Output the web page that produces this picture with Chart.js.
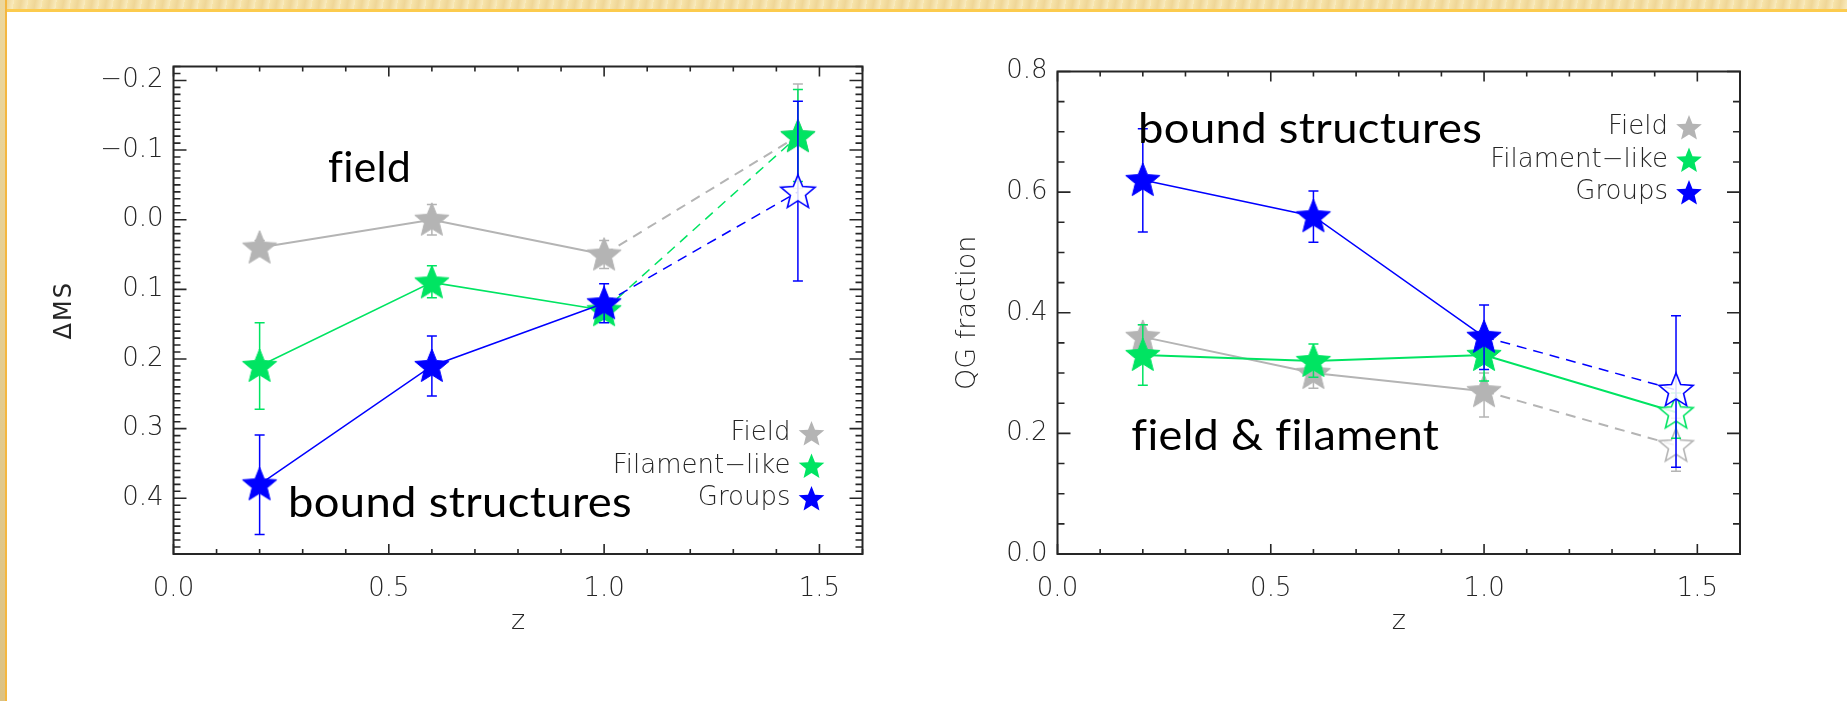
<!DOCTYPE html>
<html>
<head>
<meta charset="utf-8">
<title>Delta MS and QG fraction vs z</title>
<script src="https://cdn.jsdelivr.net/npm/chart.js@4.4.1/dist/chart.umd.min.js"></script>
<style>
    body { margin: 0; width: 1847px; height: 701px; background: #ffffff; position: relative; overflow: hidden; }
    .frame-top  { position: absolute; left: 0; top: 0; width: 1847px; height: 9px;
                  background: repeating-linear-gradient(100deg, #f7e4aa 0px, #efd697 7px, #f9ebbd 14px);
                  border-bottom: 3px solid #fccb4e; }
    .frame-left { position: absolute; left: 0; top: 0; width: 5px; height: 701px;
                  background: linear-gradient(#ecd79d, #dcc283);
                  border-right: 2px solid #f4b740; }
    canvas { position: absolute; top: 0; }
    #chartMS { left: 0; }
    #chartQG { left: 920px; }
</style>
</head>
<body>
<div class="frame-top"></div>
<div class="frame-left"></div>
<canvas id="chartMS" width="920" height="701"></canvas>
<canvas id="chartQG" width="927" height="701"></canvas>

<script>
//--------------------------------------
// data
//--------------------------------------
const zValues     = [0.2, 0.6, 1.0, 1.45];
const seriesNames = ["Field", "Filament\u2212like", "Groups"];

// left panel: offset from the main sequence
const msField      = [0.04, 0.00, 0.05, -0.12];
const msFieldLow   = [0.03, -0.022, 0.03, -0.195];
const msFieldHigh  = [0.05, 0.022, 0.07, -0.045];
const msFil        = [0.21, 0.09, 0.13, -0.12];
const msFilLow     = [0.148, 0.066, 0.118, -0.187];
const msFilHigh    = [0.272, 0.112, 0.143, -0.055];
const msGroups     = [0.38, 0.21, 0.12, -0.04];
const msGroupsLow  = [0.309, 0.167, 0.092, -0.17];
const msGroupsHigh = [0.452, 0.253, 0.148, 0.088];

// right panel: quiescent galaxy fraction
const qgField      = [0.36, 0.30, 0.27, 0.18];
const qgFieldLow   = [0.34, 0.275, 0.227, 0.137];
const qgFieldHigh  = [0.38, 0.323, 0.30, 0.225];
const qgFil        = [0.33, 0.32, 0.33, 0.235];
const qgFilLow     = [0.28, 0.293, 0.287, 0.192];
const qgFilHigh    = [0.38, 0.348, 0.37, 0.267];
const qgGroups     = [0.62, 0.56, 0.36, 0.272];
const qgGroupsLow  = [0.534, 0.517, 0.306, 0.144];
const qgGroupsHigh = [0.705, 0.602, 0.413, 0.395];

// ticks
const zTickValues  = [0, 0.5, 1.0, 1.5];
const zTickLabels  = ["0.0", "0.5", "1.0", "1.5"];
const msTickValues = [-0.2, -0.1, 0, 0.1, 0.2, 0.3, 0.4];
const msTickLabels = ["\u22120.2", "\u22120.1", "0.0", "0.1", "0.2", "0.3", "0.4"];
const qgTickValues = [0, 0.2, 0.4, 0.6, 0.8];
const qgTickLabels = ["0.0", "0.2", "0.4", "0.6", "0.8"];

const zAxisTitle  = "z";
const msAxisTitle = "\u0394MS";
const qgAxisTitle = "QG fraction";

//--------------------------------------
// styles
//--------------------------------------
const colorField  = "#b4b4b4";
const colorFil    = "#00e462";
const colorGroups = "#0000ff";
const seriesColors = [colorField, colorFil, colorGroups];
const axisFont  = "'DejaVu Sans', sans-serif";
const noteFont  = "Lato, 'Liberation Sans', sans-serif";
const inkColor  = "#262626";

/* draw a five pointed star path */
function starPath(ctx, cx, cy, r, inner) {
    ctx.beginPath();
    for (let k = 0; k < 10; k++) {
        const a = -Math.PI / 2 + k * Math.PI / 5;
        const rr = (k % 2 === 0) ? r : r * inner;
        const px = cx + rr * Math.cos(a), py = cy + rr * Math.sin(a);
        if (k === 0) { ctx.moveTo(px, py); } else { ctx.lineTo(px, py); }
    }
    ctx.closePath();
}

/* star marker as canvas, usable as chart.js pointStyle */
function starMarker(r, color, open) {
    const c = document.createElement("canvas");
    const s = Math.ceil(2 * r + 6);
    c.width = s; c.height = s;
    const g = c.getContext("2d");
    starPath(g, s / 2, s / 2 + 1, r, 0.44);
    if (open) {
        g.fillStyle = "rgba(255,255,255,0.85)";
        g.fill();
        g.lineWidth = 1.6;
        g.strokeStyle = color;
        g.stroke();
    } else {
        g.fillStyle = color;
        g.fill();
        g.lineWidth = 1;
        g.strokeStyle = color;
        g.stroke();
    }
    return c;
}

/* one series as chart.js dataset, error bars kept aside for the plugin */
function makeSeries(name, values, low, high, color, openPoints, dashedLast, width) {
    return {
        label: name,
        data: zValues.map((z, i) => ({x: z, y: values[i]})),
        errLow: low,
        errHigh: high,
        borderColor: color,
        backgroundColor: color,
        borderWidth: width,
        tension: 0,
        pointStyle: openPoints.map(o => starMarker(18, color, o)),
        pointRadius: 17,
        segment: {
            borderDash: c => (dashedLast && c.p1DataIndex === zValues.length - 1) ? [10, 7] : undefined
        }
    };
}

//--------------------------------------
// plugins: IDL style frame, error bars, legend, notes
//--------------------------------------
const errorBarPlugin = {
    id: "errorBars",
    beforeDatasetDraw(chart, args) {
        const ds = chart.data.datasets[args.index];
        const xs = chart.scales.x, ys = chart.scales.y;
        const ctx = chart.ctx;
        ctx.save();
        ctx.strokeStyle = ds.borderColor;
        ctx.lineWidth = 1.5;
        ds.data.forEach((p, i) => {
            const x = xs.getPixelForValue(p.x);
            const y1 = ys.getPixelForValue(ds.errLow[i]);
            const y2 = ys.getPixelForValue(ds.errHigh[i]);
            ctx.beginPath();
            ctx.moveTo(x, y1); ctx.lineTo(x, y2);
            ctx.moveTo(x - 5, y1); ctx.lineTo(x + 5, y1);
            ctx.moveTo(x - 5, y2); ctx.lineTo(x + 5, y2);
            ctx.stroke();
        });
        ctx.restore();
    }
};

const framePlugin = {
    id: "idlFrame",
    beforeDatasetsDraw(chart, args, opts) {
        const ctx = chart.ctx;
        const a = chart.chartArea;
        const xs = chart.scales.x, ys = chart.scales.y;
        ctx.save();
        ctx.strokeStyle = "#262626";
        ctx.lineWidth = 1.6;
        // minor / major ticks along x
        const nx = Math.round((xs.max - xs.min) / opts.xMinor);
        for (let i = 0; i <= nx; i++) {
            const v = xs.min + i * opts.xMinor;
            const major = (i % opts.xMajorEvery === 0);
            const len = major ? 10 : 5;
            const x = xs.getPixelForValue(v);
            ctx.beginPath();
            ctx.moveTo(x, a.bottom); ctx.lineTo(x, a.bottom - len);
            ctx.moveTo(x, a.top);    ctx.lineTo(x, a.top + len);
            ctx.stroke();
        }
        // minor / major ticks along y
        const y0 = Math.min(ys.min, ys.max), y1 = Math.max(ys.min, ys.max);
        const i0 = Math.ceil(y0 / opts.yMinor - 1e-6), i1 = Math.floor(y1 / opts.yMinor + 1e-6);
        for (let i = i0; i <= i1; i++) {
            const v = i * opts.yMinor;
            const major = (i % opts.yMajorEvery === 0);
            const len = major ? 13 : 7;
            const y = ys.getPixelForValue(v);
            ctx.beginPath();
            ctx.moveTo(a.left, y);  ctx.lineTo(a.left + len, y);
            ctx.moveTo(a.right, y); ctx.lineTo(a.right - len, y);
            ctx.stroke();
        }
        ctx.lineWidth = 2;
        ctx.strokeRect(a.left, a.top, a.right - a.left, a.bottom - a.top);

        // axis titles
        ctx.fillStyle = inkColor;
        ctx.textAlign = "center";
        ctx.textBaseline = "middle";
        ctx.font = "200 27px " + axisFont;
        ctx.fillText(zAxisTitle, (a.left + a.right) / 2, a.bottom + 68);
        ctx.save();
        ctx.translate(a.left - opts.yTitleOffset, (a.top + a.bottom) / 2);
        ctx.rotate(-Math.PI / 2);
        ctx.font = opts.yTitleWeight + " " + opts.yTitleSize + "px " + axisFont;
        ctx.letterSpacing = opts.yTitleSpacing + "px";
        ctx.fillText(opts.yTitle, 0, 0);
        ctx.restore();
        ctx.restore();
    }
};

const notesPlugin = {
    id: "notes",
    afterDatasetsDraw(chart, args, opts) {
        const ctx = chart.ctx;
        const a = chart.chartArea;
        const xs = chart.scales.x, ys = chart.scales.y;
        ctx.save();
        // legend, text right aligned with star on the right
        ctx.font = "200 26px " + axisFont;
        ctx.textAlign = "right";
        ctx.textBaseline = "middle";
        seriesNames.forEach((name, i) => {
            const y = a.top + opts.legendTop + i * 32.5;
            ctx.fillStyle = inkColor;
            ctx.fillText(name, a.right - 72, y + 1);
            starPath(ctx, a.right - 51, y + 2, 13.5, 0.44);
            ctx.fillStyle = seriesColors[i];
            ctx.fill();
        });
        // big annotations, squeezed to the measured width
        ctx.fillStyle = "#000000";
        ctx.textAlign = "left";
        ctx.textBaseline = "alphabetic";
        ctx.font = "42px " + noteFont;
        ctx.letterSpacing = "0.3px";
        opts.texts.forEach(t => {
            const w = ctx.measureText(t.text).width;
            ctx.save();
            ctx.translate(xs.getPixelForValue(t.x), ys.getPixelForValue(t.y));
            ctx.scale(t.width / w, 1);
            ctx.fillText(t.text, 0, 0);
            ctx.restore();
        });
        ctx.restore();
    }
};

//--------------------------------------
// chart factory
//--------------------------------------
function makeChart(id, datasets, yCfg, padding, frame, notes) {
    return new Chart(document.getElementById(id), {
        type: "line",
        data: {datasets: datasets},
        options: {
            responsive: false,
            animation: false,
            devicePixelRatio: 1,
            layout: {padding: padding},
            plugins: {
                legend: {display: false},
                tooltip: {enabled: false},
                idlFrame: frame,
                notes: notes
            },
            scales: {
                x: {
                    type: "linear", min: 0, max: 1.6,
                    grid: {display: false, drawTicks: false, tickLength: 0},
                    border: {display: false},
                    afterBuildTicks: s => { s.ticks = zTickValues.map(v => ({value: v})); },
                    afterFit: s => { s.height = 100; },
                    ticks: {
                        callback: (v, i) => zTickLabels[i],
                        font: {family: axisFont, size: 26, weight: 200},
                        color: inkColor, padding: 20, maxRotation: 0
                    }
                },
                y: {
                    type: "linear", min: yCfg.min, max: yCfg.max, reverse: yCfg.reverse,
                    grid: {display: false, drawTicks: false, tickLength: 0},
                    border: {display: false},
                    afterBuildTicks: s => { s.ticks = yCfg.values.map(v => ({value: v})); },
                    afterFit: s => { s.width = 120; },
                    ticks: {
                        callback: (v, i) => yCfg.labels[i],
                        font: {family: axisFont, size: 26, weight: 200},
                        color: inkColor, padding: 10
                    }
                }
            }
        },
        plugins: [framePlugin, errorBarPlugin, notesPlugin]
    });
}

// groups first so that they end up on top
const msDatasets = [
    makeSeries(seriesNames[2], msGroups, msGroupsLow, msGroupsHigh, colorGroups, [false, false, false, true], true, 1.5),
    makeSeries(seriesNames[1], msFil, msFilLow, msFilHigh, colorFil, [false, false, false, false], true, 1.5),
    makeSeries(seriesNames[0], msField, msFieldLow, msFieldHigh, colorField, [false, false, false, false], true, 2)
];
const qgDatasets = [
    makeSeries(seriesNames[2], qgGroups, qgGroupsLow, qgGroupsHigh, colorGroups, [false, false, false, true], true, 1.5),
    makeSeries(seriesNames[1], qgFil, qgFilLow, qgFilHigh, colorFil, [false, false, false, true], false, 2),
    makeSeries(seriesNames[0], qgField, qgFieldLow, qgFieldHigh, colorField, [false, false, false, true], true, 2)
];

makeChart("chartMS", msDatasets,
    {min: -0.22, max: 0.48, reverse: true, values: msTickValues, labels: msTickLabels},
    {left: 53.5, right: 57.5, top: 66.5, bottom: 47},
    {xMinor: 0.1, xMajorEvery: 5, yMinor: 0.01, yMajorEvery: 10,
     yTitle: msAxisTitle, yTitleSize: 24, yTitleWeight: 400, yTitleSpacing: 2, yTitleOffset: 108.5},
    {legendTop: 366, texts: [
        {text: "field", x: 0.359, y: -0.0535, width: 83},
        {text: "bound structures", x: 0.266, y: 0.4275, width: 344}
    ]});

makeChart("chartQG", qgDatasets,
    {min: 0, max: 0.8, reverse: false, values: qgTickValues, labels: qgTickLabels},
    {left: 17.5, right: 107, top: 71.5, bottom: 47},
    {xMinor: 0.1, xMajorEvery: 5, yMinor: 0.05, yMajorEvery: 4,
     yTitle: qgAxisTitle, yTitleSize: 27, yTitleWeight: 200, yTitleSpacing: 0, yTitleOffset: 89.5},
    {legendTop: 55, texts: [
        {text: "bound structures", x: 0.189, y: 0.682, width: 344},
        {text: "field & filament", x: 0.173, y: 0.1725, width: 308}
    ]});
</script>
</body>
</html>
